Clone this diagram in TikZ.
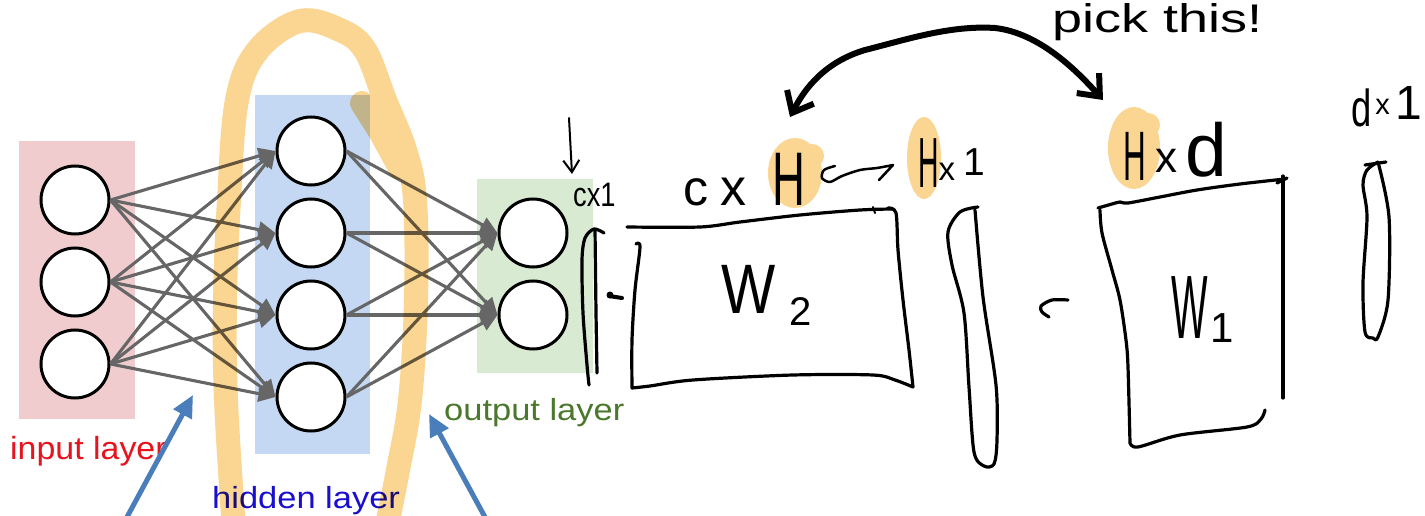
\documentclass[tikz,border=0pt]{standalone}
\usepackage{fontspec}
\setmainfont{Liberation Sans}
\usetikzlibrary{arrows.meta}
\definecolor{pinkbg}{RGB}{241,204,207}
\definecolor{bluebg}{RGB}{197,216,243}
\definecolor{greenbg}{RGB}{217,234,211}
\definecolor{edgegray}{RGB}{102,102,102}
\definecolor{hlorange}{RGB}{251,213,146}
\definecolor{arrowblue}{RGB}{74,126,187}
\definecolor{inred}{RGB}{230,20,30}
\definecolor{hidblue}{RGB}{25,15,205}
\definecolor{outgreen}{RGB}{75,120,45}
\newcommand{\hw}[2]{{\fontsize{#1}{#1}\selectfont #2}}
\begin{document}
\begin{tikzpicture}[x=1pt,y=-1pt,
  neuron/.style={circle,draw=black,line width=3pt,fill=white,minimum size=68pt,inner sep=0pt},
  wire/.style={draw=edgegray,line width=3.1pt,-{Triangle[length=17pt,width=16pt]}},
  layerlabel/.style={anchor=base west,inner sep=0pt},
  ink/.style={draw=black,line width=3.2pt,line cap=round,line join=round},
  hand/.style={anchor=base west,inner sep=0pt,text=black},
  pointer/.style={draw=arrowblue,line width=5pt,-{Triangle[length=22pt,width=20pt]}},
]
\useasboundingbox (0,0) rectangle (1425,516);
\fill[white] (0,0) rectangle (1425,516);
\begin{scope}
\clip (0,0) rectangle (1425,516);

% layer backgrounds
\fill[pinkbg] (19,141) rectangle (135,419);
\fill[bluebg] (255,95) rectangle (370,454);
\fill[greenbg] (477,179) rectangle (593,373);

% neurons
\node[neuron] (i1) at (75,200) {};
\node[neuron] (i2) at (75,282) {};
\node[neuron] (i3) at (75,364) {};
\node[neuron] (h1) at (311,151) {};
\node[neuron] (h2) at (311,233) {};
\node[neuron] (h3) at (311,315) {};
\node[neuron] (h4) at (311,397) {};
\node[neuron] (o1) at (533,233) {};
\node[neuron] (o2) at (533,315) {};

% connections
\foreach \a in {i1,i2,i3}{\foreach \b in {h1,h2,h3,h4}{\draw[wire] (\a.east) -- (\b.west);}}
\foreach \a in {h1,h2,h3,h4}{\foreach \b in {o1,o2}{\draw[wire] (\a.east) -- (\b.west);}}

% layer labels
\node[layerlabel,text=inred] (inlab) at (10,459) {\scalebox{1.06}[1]{\hw{32}{input layer}}};
\node[layerlabel,text=hidblue] (hidlab) at (212,508) {\scalebox{1.13}[1]{\hw{30.5}{hidden layer}}};
\node[layerlabel,text=outgreen] (outlab) at (444,420) {\scalebox{1.13}[1]{\hw{30.5}{output layer}}};

% orange loop around hidden layer
\begin{scope}[blend mode=multiply]
\draw[hlorange,line width=24pt,line cap=round,line join=round]
  plot[smooth,tension=0.6] coordinates {(234,530) (226,400) (225,300) (229,200) (237,100) (258,50) (300,21) (340,30) (365,50) (385,100) (405,150) (415,200) (416,300) (410,400) (398,470) (386,530)}
  (362,103) -- (381,133) -- (400,168);
\end{scope}

% blue pointers
\coordinate (pa1) at (120,530);
\coordinate (pa1t) at (193,395);
\coordinate (pa2) at (492,530);
\coordinate (pa2t) at (429,414);
\draw[pointer] (pa1) -- (pa1t);
\draw[pointer] (pa2) -- (pa2t);

% highlight blobs
\fill[hlorange] (795,173) ellipse [x radius=27, y radius=35];
\fill[hlorange] (812,156) circle (12);
\fill[hlorange] (924,158) ellipse [x radius=17, y radius=41];
\fill[hlorange] (1134,148) ellipse [x radius=26, y radius=41];
\fill[hlorange] (1148,125) circle (12);

% handwritten labels
\node[hand] (cx1) at (573,207) {\scalebox{0.8}[1]{\hw{34}{cx1}}};
\node[hand] (cxH) at (683,205) {\hw{50}{c}\hspace{12pt}\hw{52}{x}\hspace{26pt}\scalebox{0.6}[1]{\hw{76}{H}}};
\node[hand] (Hx1) at (918,188) {\scalebox{0.4}[1]{\hw{71}{H}}\raisebox{8pt}{\hw{33}{x}}\hspace{8pt}\raisebox{13pt}{\hw{39}{1}}};
\node[hand] (Hxd) at (1123,180) {\scalebox{0.45}[1]{\hw{70}{H}}\hspace{10pt}\raisebox{8pt}{\hw{44}{x}}\hspace{8pt}\raisebox{3pt}{\hw{75}{d}}};
\node[hand] (dx1) at (1351,127) {\scalebox{0.7}[1]{\hw{52}{d}}\hspace{4pt}\raisebox{12pt}{\hw{29}{x}}\hspace{6pt}\raisebox{7pt}{\hw{48}{1}}};
\node[hand] (pick) at (1052,33) {\scalebox{1.35}[1]{\hw{40}{pick this!}}};
\node[hand] (w2) at (721,313) {\scalebox{0.82}[1]{\hw{70}{W}}\hspace{14pt}\raisebox{-12pt}{\hw{40}{2}}};
\node[hand] (w1) at (1171,338) {\scalebox{0.43}[1]{\hw{90}{W}}\hspace{3pt}\raisebox{-4pt}{\hw{42}{1}}};

% small down arrow to cx1
\coordinate (das) at (569,118);
\coordinate (dat) at (572,174);
\draw[ink,line width=2pt,-{Straight Barb[length=12pt,width=16pt]}] (das) -- (dat);

% output vector sketch
\draw[ink] plot[smooth] coordinates {(604,233) (594,229) (585,238) (582,260) (583,313) (587,365) (589,385)};
\draw[ink] (595,229) -- (596,313) -- (597,373);
\draw[ink,line width=4pt] (622,298) -- (609,296);
\fill (610,295) circle (3.5);

% W2 matrix
\draw[ink] plot[smooth,tension=0.5] coordinates {(627,227) (700,227) (740,222) (800,215) (860,210) (893,209)};
\draw[ink,line width=2pt] (873,207) -- (875,213);
\draw[ink] plot[smooth] coordinates {(888,208) (896,213) (898,250) (903,300) (909,350) (913,387)}
  -- plot[smooth] coordinates {(913,387) (895,380) (873,375) (793,375) (693,380) (650,386) (632,388)}
  -- plot[smooth] coordinates {(632,388) (632,340) (635,290) (640,247) (636,244)};

% hook arrow between c x H and Hx1
\draw[ink,line width=2.5pt] plot[smooth] coordinates {(835,166) (824,170) (822,178) (830,182) (842,176) (860,170) (877,168) (893,165)} -- (879,180);

% hidden vector sketch
\draw[ink] plot[smooth] coordinates {(978,207) (960,212) (948,232) (952,265) (964,313) (969,387) (974,452) (984,466) (994,464) (997,440) (996,385) (983,297) (975,210)};

% small hook
\draw[ink] plot[smooth] coordinates {(1068,300) (1052,300) (1041,306) (1042,312) (1049,317)};

% W1 matrix
\draw[ink] plot[smooth] coordinates {(1098,208) (1112,204) (1120,202) (1128,203) (1160,197) (1197,190) (1240,184) (1285,179)};
\draw[ink] (1277,183) -- (1287,178);
\draw[ink] (1283,176) -- (1283,398);
\draw[ink] plot[smooth] coordinates {(1100,210) (1102,233) (1112,270) (1120,300) (1126,340) (1128,367) (1130,443)}
  -- plot[smooth] coordinates {(1130,443) (1138,447) (1180,435) (1247,427) (1261,419) (1265,410)};

% input vector sketch
\draw[ink] plot[smooth] coordinates {(1378,162) (1367,170) (1363,185) (1367,217) (1363,283) (1365,332) (1373,338) (1378,337) (1388,300) (1389,217) (1378,162)};
\draw[ink] (1365,165) -- (1386,162);

% big double arrow
\coordinate (bigL) at (790,117);
\coordinate (bigR) at (1103,100);
\draw[ink,line width=6pt,{Straight Barb[length=18pt,width=30pt]}-{Straight Barb[length=18pt,width=30pt]}]
  (bigL) .. controls (805,88) and (825,62) .. (865,50) .. controls (905,40) and (950,25) .. (995,28) .. controls (1040,33) and (1078,72) .. (bigR);
\end{scope}
\end{tikzpicture}
\end{document}
